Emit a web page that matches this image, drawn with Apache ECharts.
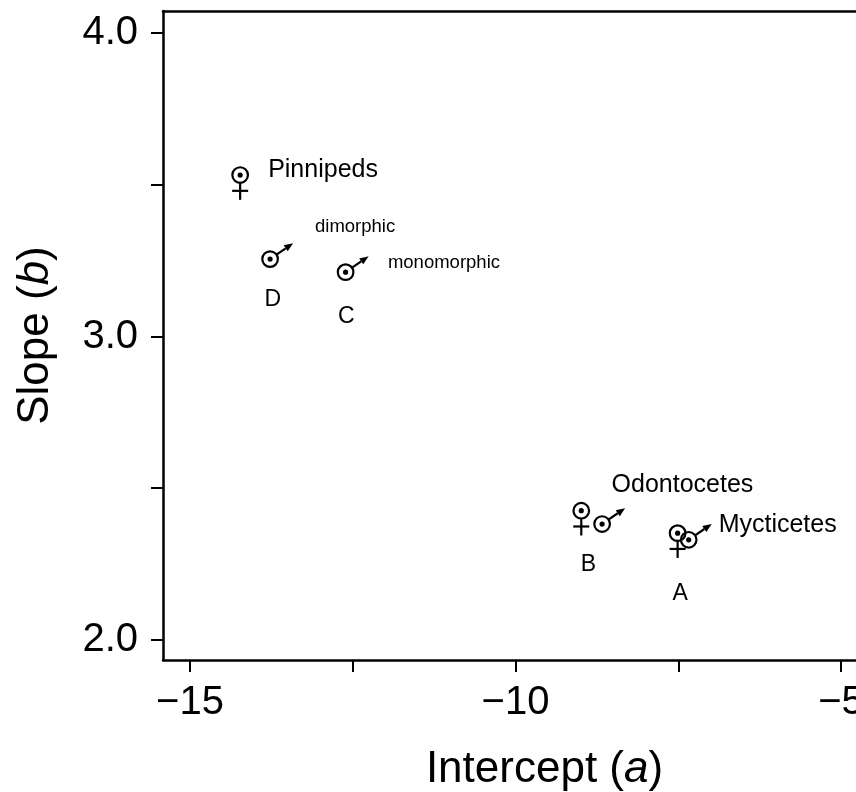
<!DOCTYPE html>
<html>
<head>
<meta charset="utf-8">
<script src="https://cdn.jsdelivr.net/npm/echarts@6/dist/echarts.min.js"></script>
<style>
html,body{margin:0;padding:0;background:#fff;}
#chart{width:856px;height:792px;}
</style>
</head>
<body>
<div id="chart"></div>
<script>
// ---- data ----
const femaleX = [-14.23, -8.99, -7.51];
const femaleY = [3.532, 2.426, 2.352];
const maleX = [-13.77, -12.61, -8.67, -7.34];
const maleY = [3.255, 3.212, 2.382, 2.330];

// word labels (left-anchored) and letter labels (centred)
const wordTexts = ['Pinnipeds', 'dimorphic', 'monomorphic', 'Odontocetes', 'Mycticetes'];
const wordX = [-13.80, -13.08, -11.96, -8.525, -6.88];
const wordY = [3.549, 3.361, 3.242, 2.511, 2.379];
const smallWords = ['dimorphic', 'monomorphic'];
const letterTexts = ['D', 'C', 'B', 'A'];
const letterX = [-13.73, -12.60, -8.88, -7.47];
const letterY = [3.120, 3.064, 2.247, 2.152];

const xTicks = [-15, -12.5, -10, -7.5, -5];
const xTickLabels = [-15, -10, -5];
const yTicks = [2, 2.5, 3, 3.5, 4];
const yTickLabels = [2, 3, 4];

const xMin = -15.415, xMax = -4.77;
const yMin = 1.934, yMax = 4.0725;

const FONT = '"Liberation Sans", Arial, Helvetica, sans-serif';
const LW = 2.2;

function femaleGlyph(params, api) {
  const p = api.coord([api.value(0), api.value(1)]);
  const r = 7.8;
  return {
    type: 'group',
    children: [
      {type: 'circle', shape: {cx: p[0], cy: p[1], r: r}, style: {fill: 'none', stroke: '#000', lineWidth: LW}},
      {type: 'circle', shape: {cx: p[0], cy: p[1], r: 2.6}, style: {fill: '#000'}},
      {type: 'line', shape: {x1: p[0], y1: p[1] + r, x2: p[0], y2: p[1] + r + 17}, style: {stroke: '#000', lineWidth: LW}},
      {type: 'line', shape: {x1: p[0] - 8, y1: p[1] + r + 8, x2: p[0] + 8, y2: p[1] + r + 8}, style: {stroke: '#000', lineWidth: LW}}
    ]
  };
}

function maleGlyph(params, api) {
  const p = api.coord([api.value(0), api.value(1)]);
  const r = 7.8;
  const dx = 0.822, dy = -0.568;
  const nx = 0.568, ny = 0.822;
  const tip = [p[0] + 28 * dx, p[1] + 28 * dy];
  const base = [tip[0] - 9 * dx, tip[1] - 9 * dy];
  return {
    type: 'group',
    children: [
      {type: 'circle', shape: {cx: p[0], cy: p[1], r: r}, style: {fill: 'none', stroke: '#000', lineWidth: LW}},
      {type: 'circle', shape: {cx: p[0], cy: p[1], r: 2.6}, style: {fill: '#000'}},
      {type: 'line', shape: {x1: p[0] + r * dx, y1: p[1] + r * dy, x2: base[0], y2: base[1]}, style: {stroke: '#000', lineWidth: LW}},
      {type: 'polygon', shape: {points: [tip, [base[0] + 3.6 * nx, base[1] + 3.6 * ny], [base[0] - 3.6 * nx, base[1] - 3.6 * ny]]}, style: {fill: '#000'}}
    ]
  };
}

function makeTextItem(align, sizeFn) {
  return function (params, api) {
    const p = api.coord([api.value(0), api.value(1)]);
    return {
      type: 'text',
      x: p[0], y: p[1],
      style: {
        text: api.value(2),
        fill: '#000',
        font: sizeFn(api.value(2)) + 'px ' + FONT,
        align: align,
        verticalAlign: 'middle'
      }
    };
  };
}

const chart = echarts.init(document.getElementById('chart'), null, {renderer: 'canvas'});

const richTitle = {
  n: {fontFamily: FONT, fontSize: 44, color: '#000'},
  i: {fontFamily: FONT, fontSize: 44, color: '#000', fontStyle: 'italic'}
};

const option = {
  backgroundColor: '#fff',
  animation: false,
  grid: {left: 163, top: 11, bottom: 132, right: 0, show: false, containLabel: false, outerBoundsMode: 'none'},
  xAxis: [{
    type: 'value', min: xMin, max: xMax, position: 'bottom',
    name: '{n|Intercept (}{i|a}{n|)}',
    nameLocation: 'middle', nameGap: 88,
    nameTextStyle: {fontFamily: FONT, fontSize: 44, color: '#000', padding: [0, 0, 0, 70], rich: richTitle},
    axisLine: {show: true, onZero: false, lineStyle: {color: '#000', width: 2.5}},
    axisTick: {show: true, length: 12, inside: false, customValues: xTicks, lineStyle: {color: '#000', width: 2}},
    axisLabel: {
      show: true, margin: 23, customValues: xTickLabels,
      fontFamily: FONT, fontSize: 40, color: '#000',
      formatter: v => (v < 0 ? '\u2212' : '') + Math.abs(v)
    },
    splitLine: {show: false}
  }, {
    type: 'value', min: xMin, max: xMax, position: 'top',
    axisLine: {show: true, onZero: false, lineStyle: {color: '#000', width: 2.5}},
    axisTick: {show: false}, axisLabel: {show: false}, splitLine: {show: false}
  }],
  yAxis: {
    type: 'value', min: yMin, max: yMax,
    name: '{n|Slope (}{i|b}{n|)}',
    nameLocation: 'middle', nameGap: 105,
    nameTextStyle: {fontFamily: FONT, fontSize: 44, color: '#000', rich: richTitle},
    axisLine: {show: true, onZero: false, lineStyle: {color: '#000', width: 2.5}},
    axisTick: {show: true, length: 12, inside: false, customValues: yTicks, lineStyle: {color: '#000', width: 2}},
    axisLabel: {
      show: true, margin: 25, customValues: yTickLabels,
      fontFamily: FONT, fontSize: 40, color: '#000',
      formatter: v => v.toFixed(1)
    },
    splitLine: {show: false}
  },
  series: [
    {
      type: 'custom', name: 'female', renderItem: femaleGlyph, clip: false,
      data: femaleX.map((x, i) => [x, femaleY[i]])
    },
    {
      type: 'custom', name: 'male', renderItem: maleGlyph, clip: false,
      data: maleX.map((x, i) => [x, maleY[i]])
    },
    {
      type: 'custom', name: 'words', clip: false, silent: true,
      dimensions: ['x', 'y', {name: 'text', type: 'ordinal'}],
      encode: {x: 0, y: 1},
      renderItem: makeTextItem('left', t => smallWords.includes(t) ? 18.5 : 25),
      data: wordTexts.map((t, i) => [wordX[i], wordY[i], t])
    },
    {
      type: 'custom', name: 'letters', clip: false, silent: true,
      dimensions: ['x', 'y', {name: 'text', type: 'ordinal'}],
      encode: {x: 0, y: 1},
      renderItem: makeTextItem('center', () => 23),
      data: letterTexts.map((t, i) => [letterX[i], letterY[i], t])
    }
  ]
};

chart.setOption(option);
</script>
</body>
</html>
